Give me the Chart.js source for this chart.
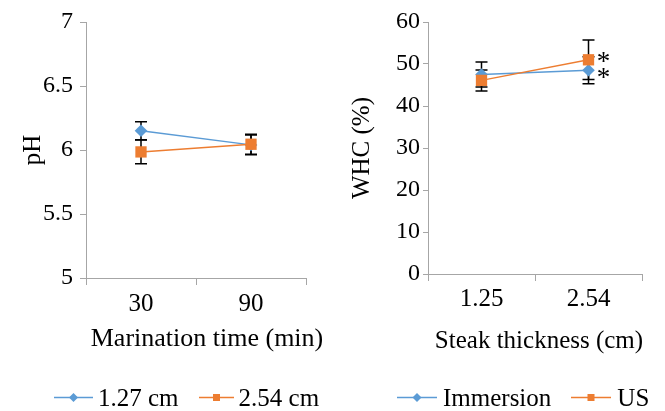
<!DOCTYPE html>
<html><head><meta charset="utf-8">
<script src="https://cdn.jsdelivr.net/npm/chart.js@4/dist/chart.umd.min.js"></script>
<style>
html,body{margin:0;padding:0;background:#fff;}
#wrap{position:relative;width:665px;height:411px;overflow:hidden;font-family:"Liberation Serif","Times New Roman",serif;}
#c1{position:absolute;left:0;top:0;}
#c2{position:absolute;left:330px;top:0;}
.leg{position:absolute;top:384px;height:28px;display:flex;align-items:center;font-size:25px;line-height:28px;color:#000;white-space:nowrap;}
.leg svg{display:block;flex:none;}
.xt{position:absolute;width:300px;height:30px;line-height:30px;text-align:center;color:#000;white-space:nowrap;}
</style></head>
<body><div id="wrap"><canvas id="c1" width="330" height="411"></canvas><canvas id="c2" width="335" height="411"></canvas>
<div class="xt" id="xt1" style="left:57px;top:323px;font-size:26px"></div>
<div class="xt" id="xt2" style="left:389px;top:325px;font-size:25px"></div>
<div class="leg" id="leg1" style="left:54px"></div><div class="leg" id="leg2" style="left:397px"></div></div>
<script>
// ---- pH chart data ----
const phCategories = ['30', '90'];
const phSeriesLabels = ['1.27 cm', '2.54 cm'];
const ph127 = [6.15, 6.04];
const ph254 = [5.985, 6.045];
const ph127Err = [0.07, 0.078];
const ph254Err = [0.093, 0.078];
const phTicks = [5, 5.5, 6, 6.5, 7];
const phXTitle = 'Marination time (min)';
const phYTitle = 'pH';

// ---- WHC chart data ----
const whcCategories = ['1.25', '2.54'];
const whcSeriesLabels = ['Immersion', 'US'];
const whcImmersion = [47.5, 48.5];
const whcUS = [46.1, 51.0];
const whcImmersionErr = [3.0, 3.2];
const whcUSErr = [2.5, 4.7];
const whcImmersionMarks = ['', '*'];
const whcUSMarks = ['', '*'];
const whcTicks = [0, 10, 20, 30, 40, 50, 60];
const whcXTitle = 'Steak thickness (cm)';
const whcYTitle = 'WHC (%)';

const FONT = '"Liberation Serif","Times New Roman",serif';
const BLUE = '#5b9bd5', ORANGE = '#ed7d31', AXIS = '#a6a6a6';

const errorBarPlugin = {
  id: 'errorBars',
  beforeDatasetsDraw(chart) {
    const ctx = chart.ctx, ys = chart.scales.y;
    ctx.save();
    ctx.strokeStyle = '#000'; ctx.lineWidth = 1.5;
    chart.data.datasets.forEach((ds, i) => {
      const meta = chart.getDatasetMeta(i);
      meta.data.forEach((el, j) => {
        const v = ds.data[j], e = ds.err[j];
        const t = ys.getPixelForValue(v + e), b = ys.getPixelForValue(v - e);
        ctx.beginPath();
        ctx.moveTo(el.x, t); ctx.lineTo(el.x, b);
        ctx.moveTo(el.x - 6, t); ctx.lineTo(el.x + 6, t);
        ctx.moveTo(el.x - 6, b); ctx.lineTo(el.x + 6, b);
        ctx.stroke();
      });
    });
    ctx.restore();
  },
  afterDatasetsDraw(chart) {
    const ctx = chart.ctx;
    ctx.save();
    ctx.fillStyle = '#000'; ctx.font = '27px ' + FONT;
    ctx.textAlign = 'center'; ctx.textBaseline = 'alphabetic';
    chart.data.datasets.forEach((ds, i) => {
      if (!ds.marks) return;
      const meta = chart.getDatasetMeta(i);
      meta.data.forEach((el, j) => {
        if (ds.marks[j]) ctx.fillText(ds.marks[j], el.x + 15, el.y + 13 + (ds.markDy || 0));
      });
    });
    ctx.restore();
  }
};

function makeChart(id, cats, datasets, ticksArr, min, max, yTitle, cfg) {
  return new Chart(document.getElementById(id), {
    type: 'line',
    data: { labels: cats, datasets },
    options: {
      responsive: false, animation: false, devicePixelRatio: 1,
      layout: { padding: { left: 0, right: cfg.padRight, top: 22, bottom: cfg.padBottom } },
      plugins: { legend: { display: false }, tooltip: { enabled: false } },
      scales: {
        x: {
          offset: true,
          grid: { offset: true, drawOnChartArea: false, drawTicks: true, tickLength: 7, color: AXIS, lineWidth: 1 },
          border: { color: AXIS, width: 1 },
          ticks: { color: '#000', font: { family: FONT, size: cfg.xTickSize }, padding: cfg.xTickPad, maxRotation: 0, autoSkip: false },
          title: { display: false },
          afterFit: s => { s.height = 80; }
        },
        y: {
          min, max,
          afterBuildTicks: s => { s.ticks = ticksArr.map(v => ({ value: v })); },
          grid: { drawOnChartArea: false, drawTicks: true, tickLength: cfg.yTickLen, color: AXIS, lineWidth: 1 },
          border: { color: AXIS, width: 1 },
          ticks: { color: '#000', font: { family: FONT, size: 24 }, padding: cfg.yTickPad, callback: v => String(v) },
          title: { display: true, text: yTitle, color: '#000', font: { family: FONT, size: 25 }, padding: { top: cfg.yTitlePad, bottom: 0 } },
          afterFit: s => { s.width = cfg.yWidth; }
        }
      }
    },
    plugins: [errorBarPlugin]
  });
}

function series(label, data, err, color, style, radius, order, marks, markDy) {
  return {
    label, data, err, marks, markDy, order,
    borderColor: color, backgroundColor: color, borderWidth: 1.5,
    pointStyle: style, pointRadius: radius, pointBorderWidth: 0, pointBackgroundColor: color,
    tension: 0, fill: false
  };
}

makeChart('c1', phCategories, [
  series(phSeriesLabels[0], ph127, ph127Err, BLUE, 'rectRot', 6.3, 1),
  series(phSeriesLabels[1], ph254, ph254Err, ORANGE, 'rect', 8, 0)
], phTicks, 5, 7, phYTitle,
  { padRight: 24, padBottom: 53, yWidth: 86, yTickLen: 6, yTickPad: 7, xTickPad: 4, xTickSize: 25, yTitlePad: 18 });

makeChart('c2', whcCategories, [
  series(whcSeriesLabels[0], whcImmersion, whcImmersionErr, BLUE, 'rectRot', 6.3, 1, whcImmersionMarks, 3),
  series(whcSeriesLabels[1], whcUS, whcUSErr, ORANGE, 'rect', 8, 0, whcUSMarks, -3)
], whcTicks, 0, 60, whcYTitle,
  { padRight: 23, padBottom: 57, yWidth: 98, yTickLen: 5, yTickPad: 3, xTickPad: 3, xTickSize: 25, yTitlePad: 17 });

document.getElementById('xt1').textContent = phXTitle;
document.getElementById('xt2').textContent = whcXTitle;

function icon(color, shape, w) {
  const m = w / 2;
  const marker = shape === 'diamond'
    ? `<polygon points="${m},9 ${m + 4.5},13.5 ${m},18 ${m - 4.5},13.5" fill="${color}"/>`
    : `<rect x="${m - 3.5}" y="10" width="7" height="7" fill="${color}"/>`;
  return `<svg width="${w}" height="28"><line x1="0" y1="13.5" x2="${w}" y2="13.5" stroke="${color}" stroke-width="1.5"/>${marker}</svg>`;
}
function legend(id, labels, widths, gaps) {
  const el = document.getElementById(id);
  el.innerHTML =
    icon(BLUE, 'diamond', widths[0]) + `<span style="margin-left:${gaps[0]}px">${labels[0]}</span>` +
    `<span style="width:${gaps[1]}px;flex:none"></span>` +
    icon(ORANGE, 'square', widths[1]) + `<span style="margin-left:${gaps[0]}px">${labels[1]}</span>`;
}
legend('leg1', phSeriesLabels, [39, 35], [5, 20]);
legend('leg2', whcSeriesLabels, [40, 40], [6, 20]);
</script>
</body></html>
